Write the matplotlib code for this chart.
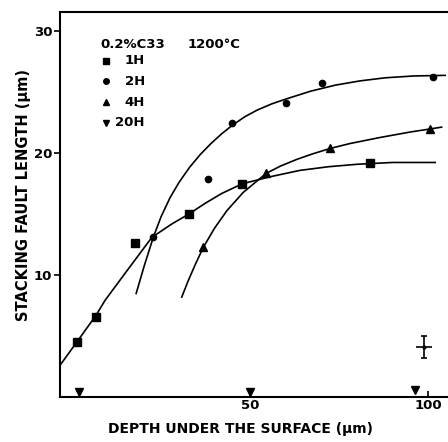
import matplotlib
matplotlib.use('Agg')
import matplotlib.pyplot as plt

# measured points (depth in um, stacking fault length in um)
x_1h = [1.3, 6.7, 17.7, 32.7, 47.8, 83.7]
y_1h = [4.5, 6.6, 12.6, 15.0, 17.5, 19.2]
x_2h = [22.8, 38.3, 45.0, 60.0, 70.3, 101.5]
y_2h = [13.1, 17.9, 22.5, 24.1, 25.8, 26.3]
x_4h = [36.9, 54.5, 72.5, 100.6]
y_4h = [12.3, 18.4, 20.4, 22.0]
x_20h = [2.0, 50.0, 96.2]
y_20h = [0.45, 0.45, 0.55]

# hand drawn guide curves
cx_1h = [-3.4, 1.3, 6.7, 9.3, 15.0, 22.4, 28.0, 32.7, 37.4, 42.0, 47.8, 56.0, 64.0, 72.0, 80.0, 90.0, 102.0]
cy_1h = [2.6, 4.5, 6.7, 7.95, 10.2, 13.1, 14.2, 15.0, 15.9, 16.7, 17.5, 18.1, 18.6, 18.9, 19.1, 19.25, 19.25]
cx_2h = [18.0, 20.3, 22.8, 25.0, 27.5, 30.0, 33.0, 36.0, 39.0, 42.0, 45.0, 48.5, 52.0, 56.0, 60.0, 67.0, 74.0, 81.0, 88.0, 96.0, 104.8]
cy_2h = [8.5, 10.8, 13.1, 14.8, 16.35, 17.6, 18.85, 19.9, 20.8, 21.6, 22.3, 23.0, 23.55, 24.05, 24.45, 25.1, 25.6, 25.95, 26.2, 26.35, 26.4]
cx_4h = [30.8, 32.7, 34.8, 36.9, 40.0, 43.5, 48.1, 54.5, 58.5, 63.1, 67.5, 72.5, 78.0, 86.5, 95.0, 100.6, 103.8]
cy_4h = [8.2, 9.6, 11.0, 12.3, 13.85, 15.3, 16.8, 18.35, 18.95, 19.5, 19.95, 20.4, 20.8, 21.3, 21.75, 22.0, 22.15]

# typical error
err_x, err_y = 98.9, 4.1
err_dx, err_dy = 2.3, 0.9

key_labels = ['1H', '2H', '4H', '20H']
key_markers = ['s', 'o', '^', 'v']

plt.rcParams['font.family'] = 'DejaVu Sans'
plt.rcParams['font.weight'] = 'bold'

fig = plt.figure(figsize=(4.48, 4.42), dpi=100)
ax = fig.add_axes([60 / 448, 1 - 397 / 442, 388 / 448, 385 / 442])

for cx, cy in [(cx_1h, cy_1h), (cx_2h, cy_2h), (cx_4h, cy_4h)]:
    ax.plot(cx, cy, color='black', lw=1.2, solid_joinstyle='round')

ax.plot(x_1h, y_1h, 's', color='black', ms=5.5)
ax.plot(x_2h, y_2h, 'o', color='black', ms=4.5)
ax.plot(x_4h, y_4h, '^', color='black', ms=5.5)
ax.plot(x_20h, y_20h, 'v', color='black', ms=5.5, clip_on=False)

ax.errorbar(err_x, err_y, yerr=err_dy, fmt='o', color='black', ms=2, lw=1.2, capsize=2.5, capthick=1.2)
ax.errorbar(err_x, err_y, xerr=err_dx, fmt='none', ecolor='black', lw=1.2)

ax.set_xlim(-3.4, 105.6)
ax.set_ylim(0, 31.6)
ax.set_xticks([50, 100])
ax.set_yticks([10, 20, 30])
ax.tick_params(axis='x', direction='in', length=4, width=1.2, labelsize=9.5, pad=1.5)
ax.tick_params(axis='y', direction='out', length=4, width=1.2, labelsize=9.5, pad=1.5)
for lab in ax.get_xticklabels() + ax.get_yticklabels():
    lab.set_fontweight('bold')
ax.spines['right'].set_visible(False)
for s in ['left', 'bottom', 'top']:
    ax.spines[s].set_linewidth(1.5)

fig.text(240 / 448, 1 - 429 / 442, 'DEPTH UNDER THE SURFACE (\u03bcm)', ha='center', va='center',
         fontsize=10, fontweight='bold')
fig.text(24 / 448, 1 - 195 / 442, 'STACKING FAULT LENGTH (\u03bcm)', ha='center', va='center',
         rotation=90, fontsize=10.5, fontweight='bold')

# key, hand placed like the original
ax.text(0.103, 0.915, '0.2%C33', transform=ax.transAxes, fontsize=9.5, fontweight='bold', va='center')
ax.text(0.33, 0.915, '1200\u00b0C', transform=ax.transAxes, fontsize=9.5, fontweight='bold', va='center')
for i, (lab, mk) in enumerate(zip(key_labels, key_markers)):
    yk = 0.873 - i * 0.0535
    ax.plot([0.119], [yk], mk, color='black', ms=5 if mk != 'o' else 4, transform=ax.transAxes)
    ax.text(0.219, yk, lab, transform=ax.transAxes, fontsize=9.5, fontweight='bold',
            ha='right', va='center')

fig.savefig('out.png', dpi=100)
